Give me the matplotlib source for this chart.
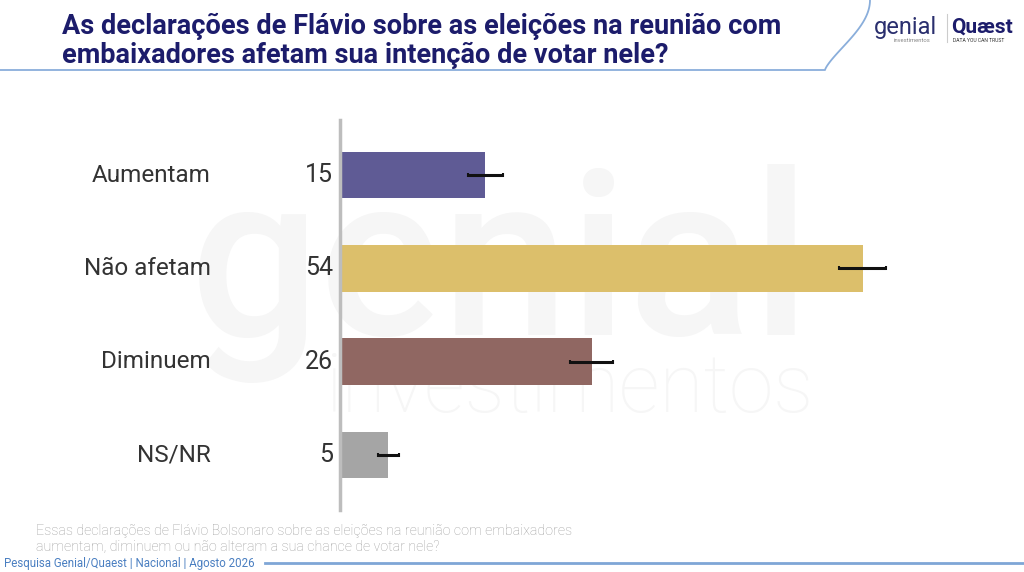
import matplotlib.pyplot as plt
import matplotlib.transforms as mtransforms
import numpy as np

# Dados do grafico
categorias = ["Aumentam", "Não afetam", "Diminuem", "NS/NR"]
valores = [15, 54, 26, 5]
erros = [1.8, 2.4, 2.2, 1.1]
cores = ["#5f5b95", "#dcbf6b", "#906762", "#a5a5a5"]

titulo = "As declarações de Flávio sobre as eleições na reunião com\nembaixadores afetam sua intenção de votar nele?"
pergunta = ("Essas declarações de Flávio Bolsonaro sobre as eleições na reunião com embaixadores\n"
            "aumentam, diminuem ou não alteram a sua chance de votar nele?")
rodape = "Pesquisa Genial/Quaest | Nacional | Agosto 2026"

plt.rcParams['font.family'] = ['Roboto', 'DejaVu Sans']

W, H = 1024, 572
fig = plt.figure(figsize=(W / 100, H / 100), dpi=100)

# Camada de fundo para decoracoes (em pixels)
bg = fig.add_axes([0, 0, 1, 1], zorder=0)
bg.set_xlim(0, W)
bg.set_ylim(H, 0)
bg.axis("off")

# marca d'agua
bg.text(500, 335, "genial", fontsize=165, color="#f6f6f6", ha="center", va="baseline",
        fontweight="medium")
bg.text(570, 412, "investimentos", fontsize=58, color="#f6f6f6", ha="center", va="baseline",
        fontweight="light")

# linha do topo com curva
t = np.linspace(0, 1, 60)
cx = 825 + 45 * np.sin(t * np.pi / 2) ** 1.3
cy = 70 - 70 * t
bg.plot(np.r_[0, cx], np.r_[70, cy], color="#8aaedb", lw=1.3)
# linha do rodape
bg.plot([265, W], [563, 563], color="#7fa6d6", lw=2)

# titulo
bg.text(62, 41, titulo, fontsize=19.5, fontweight="bold", color="#1c1c6b",
        ha="left", va="center", linespacing=1.05)

# logo
bg.text(874, 34, "genial", fontsize=17, color="#2a2f6e", ha="left", va="baseline")
bg.text(894, 42, "investimentos", fontsize=4.2, color="#888888", ha="left", va="baseline")
bg.plot([947, 947], [14, 42], color="#cccccc", lw=0.8)
bg.text(951, 33, "Quæst", fontsize=15, fontweight="bold", color="#1c1c6b", ha="left", va="baseline")
bg.text(953, 42, "DATA YOU CAN TRUST", fontsize=3.6, color="#333333", ha="left", va="baseline")

# pergunta e rodape
bg.text(36, 539, pergunta, fontsize=10.3, color="#a0a0a0", ha="left", va="center",
        fontweight="light", linespacing=1.1)
bg.text(4, 563, rodape, fontsize=8.3, color="#4a7fc1", ha="left", va="center")

# Grafico de barras
ax = fig.add_axes([340 / W, 1 - 510 / H, 600 / W, 390 / H], zorder=1)
ax.patch.set_alpha(0)
y = np.arange(len(categorias))
ax.barh(y, valores, height=0.5, color=cores, zorder=2)
ax.errorbar(valores, y, xerr=erros, fmt="none", ecolor="#111111", elinewidth=2.2,
            capsize=1.5, capthick=1.5, zorder=3)
ax.set_xlim(0, 62)
ax.set_ylim(3.59, -0.59)
for s in ["top", "right", "bottom"]:
    ax.spines[s].set_visible(False)
ax.spines["left"].set_color("#bdbdbd")
ax.spines["left"].set_linewidth(2.5)
ax.set_xticks([])
ax.set_yticks([])

trans = mtransforms.blended_transform_factory(fig.transFigure, ax.transData)
for i, (cat, v) in enumerate(zip(categorias, valores)):
    ax.text(211 / W, i, cat, transform=trans, ha="right", va="center",
            fontsize=17.5, color="#333333")
    ax.text(333 / W, i, str(v), transform=trans, ha="right", va="center",
            fontsize=18, color="#333333")

fig.savefig("out.png", dpi=100)
